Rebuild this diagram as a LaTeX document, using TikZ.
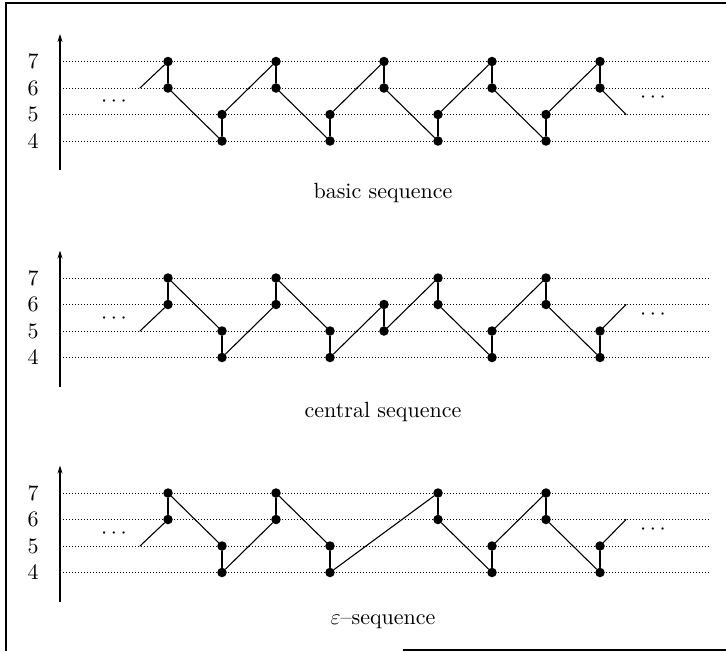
\RequirePackage{fix-cm}
\documentclass[tikz,border=0pt]{standalone}
\usepackage{fontspec}
\setmainfont{lmroman10-regular.otf}
\usetikzlibrary{arrows.meta}
\tikzset{
  dot/.style={circle,fill=black,draw=none,inner sep=0pt,minimum size=9.5pt},
  seg/.style={line width=1.1pt,line cap=round},
  gridline/.style={line width=0.8pt,dash pattern=on 0.9pt off 2.1pt},
  lvl/.style={inner sep=0pt,font=\fontsize{22}{26}\selectfont},
  caption/.style={inner sep=0pt,font=\fontsize{22}{26}\selectfont},
  axis/.style={line width=1.1pt,-{Stealth[length=8pt,width=5pt]}},
  frame/.style={line width=1.6pt}
}
% #1 prefix, #2 index, #3 level, #4 base y
\newcommand\pdot[4]{\node[dot] (#1-#2-#3) at ({168+54*(#2-1)},{#4-(#3-4)*26.5}) {};}
\newcommand\panelbase[2]{% #1 prefix, #2 base
  \foreach \L in {4,5,6,7} {
    \node[lvl] (#1-lab\L) at (33,{#2-(\L-4)*26.5}) {\L};
    \coordinate (#1-gl\L) at (63,{#2-(\L-4)*26.5});
    \coordinate (#1-gr\L) at (710,{#2-(\L-4)*26.5});
    \draw[gridline] (#1-gl\L) -- (#1-gr\L);
  }
  \coordinate (#1-ab) at (60,{#2+29});
  \coordinate (#1-at) at (60,{#2-107});
  \draw[axis] (#1-ab) -- (#1-at);
  \node[lvl] (#1-ldots) at (114,{#2-39}) {$\cdots$};
  \node[lvl] (#1-rdots) at (653,{#2-43}) {$\cdots$};
}
\begin{document}
\begin{tikzpicture}[x=1pt,y=-1pt]
\useasboundingbox (0,0) rectangle (726,651);
% frame (partial, as scanned)
\coordinate (f1) at (6,3);
\coordinate (f2) at (726,3);
\coordinate (f3) at (6,651);
\coordinate (f4) at (403,650);
\coordinate (f5) at (726,650);
\draw[frame] (f2) -- (f1) -- (f3);
\draw[frame] (f4) -- (f5);

% ---------- panel 1: basic sequence ----------
\def\bA{141}
\panelbase{A}{\bA}
\foreach \i/\l in {1/7,1/6,2/5,2/4,3/7,3/6,4/5,4/4,5/7,5/6,6/5,6/4,7/7,7/6,8/5,8/4,9/7,9/6} {\pdot{A}{\i}{\l}{\bA}}
\coordinate (A-s) at (140,{\bA-2*26.5});
\coordinate (A-e) at (626,{\bA-1*26.5});
\draw[seg] (A-s) -- (A-1-7);
\foreach \a/\b in {1-7/1-6,1-6/2-4,2-4/2-5,2-5/3-7,3-7/3-6,3-6/4-4,4-4/4-5,4-5/5-7,5-7/5-6,5-6/6-4,6-4/6-5,6-5/7-7,7-7/7-6,7-6/8-4,8-4/8-5,8-5/9-7,9-7/9-6}
  {\draw[seg] (A-\a) -- (A-\b);}
\draw[seg] (A-9-6) -- (A-e);
\node[caption] (A-cap) at (383,193) {basic sequence};

% ---------- panel 2: central sequence ----------
\def\bB{357.5}
\panelbase{B}{\bB}
\foreach \i/\l in {1/7,1/6,2/5,2/4,3/7,3/6,4/5,4/4,5/6,5/5,6/7,6/6,7/5,7/4,8/7,8/6,9/5,9/4} {\pdot{B}{\i}{\l}{\bB}}
\coordinate (B-s) at (140,{\bB-1*26.5});
\coordinate (B-e) at (626,{\bB-2*26.5});
\draw[seg] (B-s) -- (B-1-6);
\foreach \a/\b in {1-6/1-7,1-7/2-5,2-5/2-4,2-4/3-6,3-6/3-7,3-7/4-5,4-5/4-4,4-4/5-6,5-6/5-5,5-5/6-7,6-7/6-6,6-6/7-4,7-4/7-5,7-5/8-7,8-7/8-6,8-6/9-4,9-4/9-5}
  {\draw[seg] (B-\a) -- (B-\b);}
\draw[seg] (B-9-5) -- (B-e);
\node[caption] (B-cap) at (383,412) {central sequence};

% ---------- panel 3: epsilon sequence ----------
\def\bC{572.5}
\panelbase{C}{\bC}
\foreach \i/\l in {1/7,1/6,2/5,2/4,3/7,3/6,4/5,4/4,6/7,6/6,7/5,7/4,8/7,8/6,9/5,9/4} {\pdot{C}{\i}{\l}{\bC}}
\coordinate (C-s) at (140,{\bC-1*26.5});
\coordinate (C-e) at (626,{\bC-2*26.5});
\draw[seg] (C-s) -- (C-1-6);
\foreach \a/\b in {1-6/1-7,1-7/2-5,2-5/2-4,2-4/3-6,3-6/3-7,3-7/4-5,4-5/4-4,4-4/6-7,6-7/6-6,6-6/7-4,7-4/7-5,7-5/8-7,8-7/8-6,8-6/9-4,9-4/9-5}
  {\draw[seg] (C-\a) -- (C-\b);}
\draw[seg] (C-9-5) -- (C-e);
\node[caption] (C-cap) at (383,622) {$\varepsilon$--sequence};
\end{tikzpicture}
\end{document}
